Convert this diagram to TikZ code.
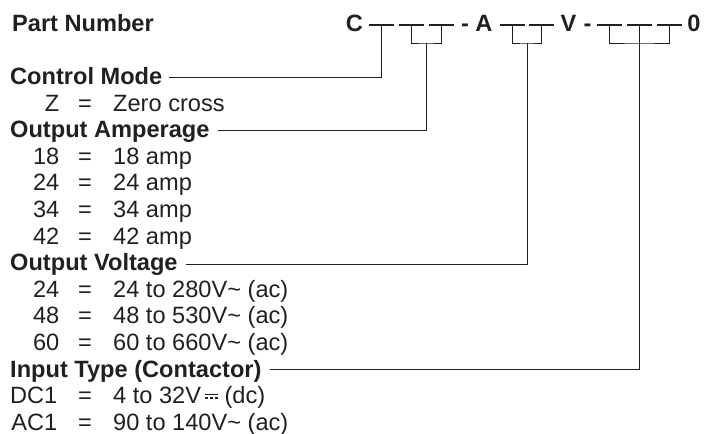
\documentclass[tikz,border=0pt]{standalone}
\usepackage{fontspec}
\setmainfont{Liberation Sans}
\definecolor{ink}{HTML}{231F20}
% direct current sign: solid bar over three dashes
\newcommand{\dcsign}{\raisebox{0.2em}{\rlap{\rule[0.15em]{0.55em}{0.07em}}\rule{0.14em}{0.07em}\hspace{0.066em}\rule{0.14em}{0.07em}\hspace{0.066em}\rule{0.14em}{0.07em}}}
\begin{document}
\begin{tikzpicture}[x=1pt,y=-1pt,
  every node/.style={inner sep=0pt,text=ink,font=\fontsize{23.6}{28}\selectfont},
  head/.style={anchor=base west,inner xsep=0pt,font=\fontsize{23.6}{28}\selectfont\bfseries},
  code/.style={anchor=base,font=\fontsize{23.6}{28}\selectfont\bfseries},
  key/.style={anchor=base east},
  eq/.style={anchor=base},
  val/.style={anchor=base west},
  bar/.style={draw=ink,line width=1.7pt},
  lead/.style={draw=ink,line width=0.8pt}]
  \useasboundingbox (0,0) rectangle (705,434);
  % part number code
  \node[head] (pn) at (12,31) {Part Number};
  \node[code] (cC) at (354.5,31.5) {C};
  \node[code] (cH1) at (465,31.5) {-};
  \node[code] (cA) at (484,31.5) {A};
  \node[code] (cV) at (568.5,31.5) {V};
  \node[code] (cH2) at (587.5,31.5) {-};
  \node[code] (c0) at (694,31.5) {0};
  \draw[bar] (369,25) -- (394,25);
  \draw[bar] (399,25) -- (424,25);
  \draw[bar] (429,25) -- (454,25);
  \draw[bar] (500,25) -- (525,25);
  \draw[bar] (529,25) -- (554,25);
  \draw[bar] (597,25) -- (622,25);
  \draw[bar] (627,25) -- (652,25);
  \draw[bar] (657,25) -- (682,25);
  \coordinate (t1) at (381.5,25);
  \coordinate (t2) at (411.5,25);
  \coordinate (t3) at (441.5,25);
  \coordinate (t4) at (512.5,25);
  \coordinate (t5) at (541.5,25);
  \coordinate (t6) at (609.5,25);
  \coordinate (t7) at (639.5,25);
  \coordinate (t8) at (669.5,25);
  \coordinate (k2) at (426.5,43);
  \coordinate (k4) at (527,43);
  \coordinate (k7) at (639.5,43);
  \draw[lead] (t2) |- (k2) -| (t3);
  \draw[lead] (t4) |- (k4) -| (t5);
  \draw[lead] (t6) |- (k7) -| (t8);
  % control mode
  \node[head] (ctrl) at (10,84.5) {Control Mode};
  \node[key] (kZ) at (59.5,111.1) {Z};
  \node[eq] (eZ) at (85,111.1) {=};
  \node[val] (vZ) at (113,111.1) {Zero cross};
  % output amperage
  \node[head] (amp) at (10,137.7) {Output Amperage};
  \node[key] (k18) at (59.5,164.3) {18};
  \node[eq] (e18) at (85,164.3) {=};
  \node[val] (v18) at (113,164.3) {18 amp};
  \node[key] (k24) at (59.5,190.9) {24};
  \node[eq] (e24) at (85,190.9) {=};
  \node[val] (v24) at (113,190.9) {24 amp};
  \node[key] (k34) at (59.5,217.5) {34};
  \node[eq] (e34) at (85,217.5) {=};
  \node[val] (v34) at (113,217.5) {34 amp};
  \node[key] (k42) at (59.5,244.1) {42};
  \node[eq] (e42) at (85,244.1) {=};
  \node[val] (v42) at (113,244.1) {42 amp};
  % output voltage
  \node[head] (volt) at (10,270.7) {Output Voltage};
  \node[key] (kV24) at (59.5,297.3) {24};
  \node[eq] (eV24) at (85,297.3) {=};
  \node[val] (vV24) at (113,297.3) {24 to 280V\textasciitilde\ (ac)};
  \node[key] (kV48) at (59.5,323.9) {48};
  \node[eq] (eV48) at (85,323.9) {=};
  \node[val] (vV48) at (113,323.9) {48 to 530V\textasciitilde\ (ac)};
  \node[key] (kV60) at (59.5,350.5) {60};
  \node[eq] (eV60) at (85,350.5) {=};
  \node[val] (vV60) at (113,350.5) {60 to 660V\textasciitilde\ (ac)};
  % input type
  \node[head] (input) at (10,377.1) {Input Type (Contactor)};
  \node[key] (kDC) at (57.5,403.7) {DC1};
  \node[eq] (eDC) at (85,403.7) {=};
  \node[val] (vDC) at (113,403.7) {4 to 32V\,\dcsign\ (dc)};
  \node[key] (kAC) at (57.5,430.3) {AC1};
  \node[eq] (eAC) at (85,430.3) {=};
  \node[val] (vAC) at (113,430.3) {90 to 140V\textasciitilde\ (ac)};
  % leaders
  \coordinate (ctrl-end) at ([shift={(7pt,7.5pt)}]ctrl.base east);
  \coordinate (amp-end) at ([shift={(8pt,7.7pt)}]amp.base east);
  \coordinate (volt-end) at ([shift={(8pt,6.7pt)}]volt.base east);
  \coordinate (input-end) at ([shift={(8pt,8pt)}]input.base east);
  \draw[lead] (ctrl-end) -| (t1);
  \draw[lead] (amp-end) -| (k2);
  \draw[lead] (volt-end) -| (k4);
  \draw[lead] (input-end) -| (t7);
\end{tikzpicture}
\end{document}
